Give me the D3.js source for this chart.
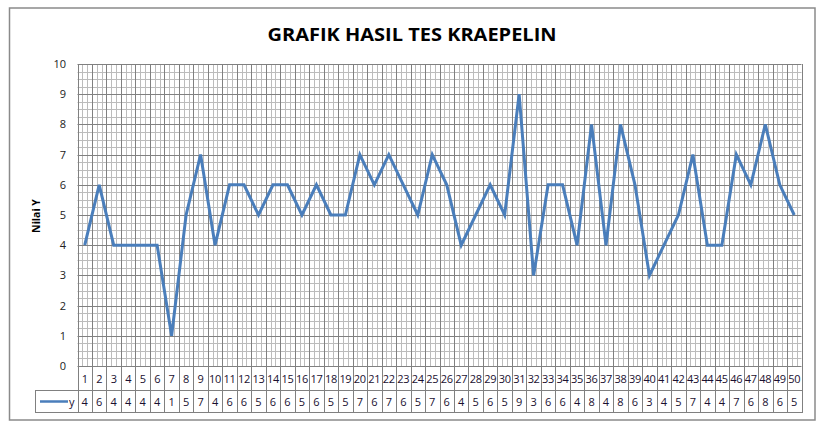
<!DOCTYPE html>
<html><head><meta charset="utf-8">
<script src="https://cdn.jsdelivr.net/npm/d3@7"></script>
<style>body{margin:0;background:#fff}svg{display:block}</style>
</head><body>
<script>
const categories = d3.range(1, 51).map(String);
const values = [4,6,4,4,4,4,1,5,7,4,6,6,5,6,6,5,6,5,5,7,6,7,6,5,7,6,4,5,6,5,9,3,6,6,4,8,4,8,6,3,4,5,7,4,4,7,6,8,6,5];
const yTicks = [0,1,2,3,4,5,6,7,8,9,10];
const title = "GRAFIK HASIL TES KRAEPELIN";
const yLabel = "Nilai Y";
const seriesName = "y";

const W = 826, H = 429;
const svg = d3.select("body").append("svg").attr("width", W).attr("height", H);
svg.append("rect").attr("x",0).attr("y",0).attr("width",W).attr("height",H).attr("fill","#fff");
svg.append("rect").attr("x",9.5).attr("y",8).attr("width",805.5).attr("height",412)
  .attr("fill","#fff").attr("stroke","#8a8a8a").attr("stroke-width",1.5);

const L = 77.5, R = 801.5, T = 64, B = 366;
const x = d3.scaleBand().domain(categories).range([L, R]).padding(0);
const y = d3.scaleLinear().domain([0, 10]).range([B, T]);
const bw = x.bandwidth();

const g = svg.append("g");
const minorY = d3.range(0, 10.001, 0.25).filter(v => Math.abs(v - Math.round(v)) > 1e-6);
g.selectAll("line.mh").data(minorY).join("line")
  .attr("x1", L).attr("x2", R).attr("y1", d => Math.round(y(d))+0.5).attr("y2", d => Math.round(y(d))+0.5)
  .attr("stroke", "#bcbcbc").attr("stroke-width", 1);
const minorX = [];
categories.forEach(c => { minorX.push(x(c) + bw/3, x(c) + 2*bw/3); });
g.selectAll("line.mv").data(minorX).join("line")
  .attr("x1", d => Math.round(d)+0.5).attr("x2", d => Math.round(d)+0.5).attr("y1", T).attr("y2", B)
  .attr("stroke", "#bcbcbc").attr("stroke-width", 1);
g.selectAll("line.Mh").data(yTicks).join("line")
  .attr("x1", L).attr("x2", R).attr("y1", d => Math.round(y(d))+0.5).attr("y2", d => Math.round(y(d))+0.5)
  .attr("stroke", "#808080").attr("stroke-width", 1);
const bounds = categories.map(c => x(c)).concat([R]);
g.selectAll("line.Mv").data(bounds).join("line")
  .attr("x1", d => Math.round(d)+0.5).attr("x2", d => Math.round(d)+0.5).attr("y1", T).attr("y2", 413)
  .attr("stroke", "#808080").attr("stroke-width", 1);

const rowTop = 390.5, rowBot = 412.5;
svg.append("line").attr("x1", 35).attr("x2", R+0.5).attr("y1", rowTop).attr("y2", rowTop).attr("stroke","#808080");
svg.append("line").attr("x1", 35).attr("x2", R+0.5).attr("y1", rowBot).attr("y2", rowBot).attr("stroke","#808080");
svg.append("line").attr("x1", 35.5).attr("x2", 35.5).attr("y1", rowTop).attr("y2", rowBot).attr("stroke","#808080");

svg.selectAll("text.yt").data(yTicks).join("text")
  .attr("x", 66).attr("y", d => y(d) + 4).attr("text-anchor", "end")
  .attr("font-family", "'Open Sans', 'DejaVu Sans', sans-serif").attr("font-size", 11).attr("fill", "#222")
  .text(d => d);

svg.selectAll("text.cat").data(categories).join("text")
  .attr("x", d => x(d) + bw/2).attr("y", 383).attr("text-anchor", "middle")
  .attr("font-family", "'Open Sans', 'DejaVu Sans', sans-serif").attr("font-size", 11).attr("fill", "#1a1030")
  .attr("letter-spacing", -0.3)
  .text(d => d);
svg.selectAll("text.val").data(values).join("text")
  .attr("x", (d, i) => x(categories[i]) + bw/2).attr("y", 406).attr("text-anchor", "middle")
  .attr("font-family", "'Open Sans', 'DejaVu Sans', sans-serif").attr("font-size", 11).attr("fill", "#1a1030")
  .text(d => d);

svg.append("line").attr("x1", 40).attr("x2", 68).attr("y1", 401.5).attr("y2", 401.5)
  .attr("stroke", "#4a7ebb").attr("stroke-width", 2.5);
svg.append("text").attr("x", 69).attr("y", 406).attr("font-family", "'Open Sans', sans-serif")
  .attr("font-size", 11).attr("fill", "#1a1030").text(seriesName);

const line = d3.line().x((d, i) => x(categories[i]) + bw/2).y(d => y(d));
svg.append("path").datum(values).attr("d", line).attr("fill", "none")
  .attr("stroke", "#4a7ebb").attr("stroke-width", 3).attr("stroke-linejoin", "miter");

svg.append("text").attr("x", 412).attr("y", 41).attr("text-anchor", "middle")
  .attr("font-family", "'Open Sans', sans-serif").attr("font-weight", "bold").attr("font-size", 18)
  .attr("textLength", 289).attr("lengthAdjust", "spacingAndGlyphs")
  .attr("fill", "#000").text(title);

svg.append("text").attr("transform", "translate(40,216) rotate(-90)").attr("text-anchor", "middle")
  .attr("font-family", "'Open Sans', sans-serif").attr("font-weight", "bold").attr("font-size", 10.5)
  .attr("fill", "#000").text(yLabel);
</script>
</body></html>
